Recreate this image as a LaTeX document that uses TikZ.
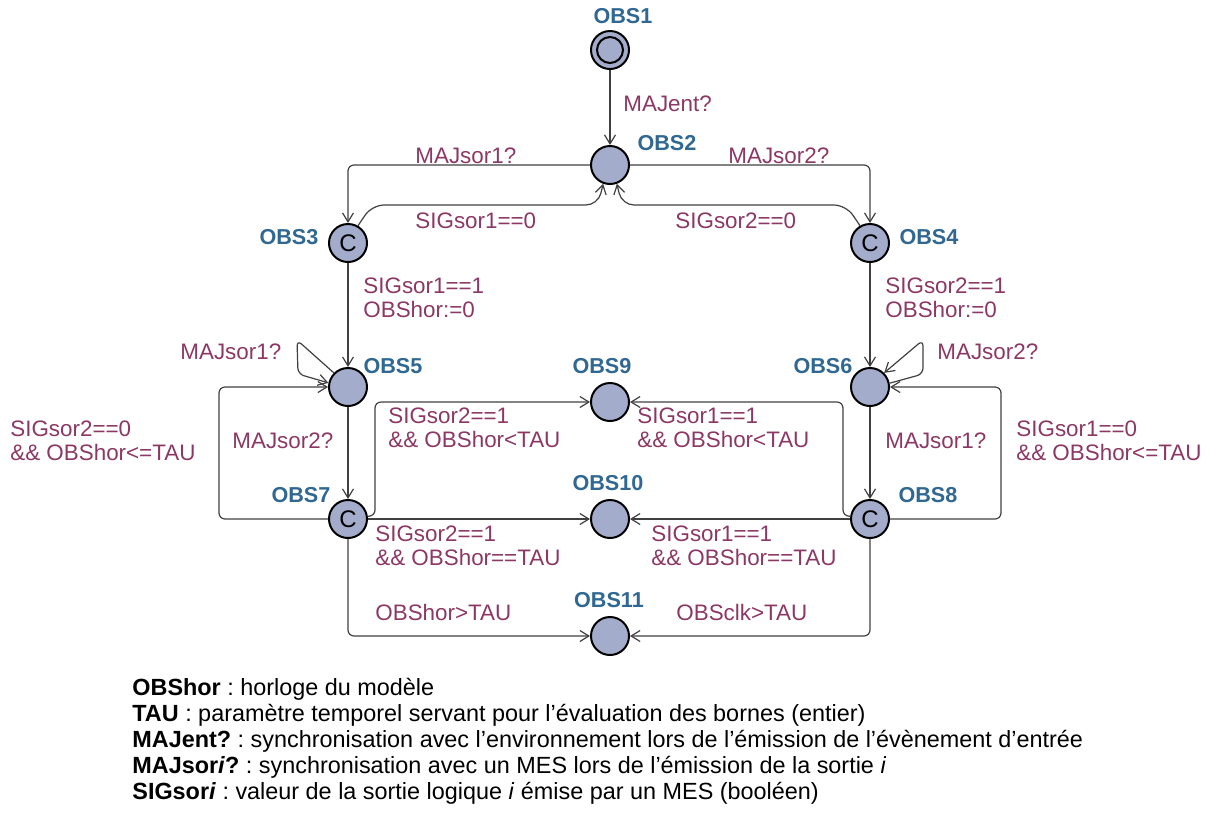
\documentclass[tikz,border=0pt]{standalone}
\usepackage{fontspec}
\setmainfont{Liberation Sans}
\usetikzlibrary{arrows.meta}
\frenchspacing

\definecolor{locfill}{RGB}{164,172,204}
\definecolor{namecol}{RGB}{48,104,146}
\definecolor{lblcol}{RGB}{140,56,100}

\tikzset{
	loc/.style={circle,draw=black,line width=1pt,fill=locfill,minimum size=19pt,inner sep=0pt,font=\fontsize{12}{12}\selectfont},
	locname/.style={text=namecol,font=\fontsize{10.8}{11}\selectfont\bfseries,inner sep=0pt},
	lbl/.style={text=lblcol,font=\fontsize{11.2}{12}\selectfont,align=left,inner sep=0pt,anchor=west},
	trans/.style={draw=black!75,line width=0.6pt,-{Straight Barb[length=4.5pt,width=5.5pt]},rounded corners=3pt},
	legend/.style={font=\fontsize{11.7}{13}\selectfont,inner sep=0pt,anchor=base west}
}

\begin{document}
\begin{tikzpicture}[x=0.5pt,y=-0.5pt]
			%%%%% START %%%%%
			\useasboundingbox (0,0) rectangle (1216,816);
			\def\xl{348}
			\def\xm{610}
			\def\xr{870}

			% locations
			\node[loc] (obs1) at (\xm,50) {};
			\draw[line width=1pt] (obs1) circle (6.5pt);
			\node[loc] (obs2) at (\xm,165) {};
			\node[loc] (obs3) at (\xl,243) {C};
			\node[loc] (obs4) at (\xr,243) {C};
			\node[loc] (obs5) at (\xl,387) {};
			\node[loc] (obs6) at (\xr,387) {};
			\node[loc] (obs7) at (\xl,519) {C};
			\node[loc] (obs8) at (\xr,519) {C};
			\node[loc] (obs9) at (\xm,402) {};
			\node[loc] (obs10) at (\xm,519) {};
			\node[loc] (obs11) at (\xm,636) {};

			\node[locname] (nobs1) at (623,16) {OBS1};
			\node[locname] (nobs2) at (667,143) {OBS2};
			\node[locname] (nobs3) at (289,237) {OBS3};
			\node[locname] (nobs4) at (929,237) {OBS4};
			\node[locname] (nobs5) at (393,366) {OBS5};
			\node[locname] (nobs6) at (823,366) {OBS6};
			\node[locname] (nobs7) at (301,495) {OBS7};
			\node[locname] (nobs8) at (928,495) {OBS8};
			\node[locname] (nobs9) at (602,366) {OBS9};
			\node[locname] (nobs10) at (608,483) {OBS10};
			\node[locname] (nobs11) at (609,600) {OBS11};

			% transitions
			\draw[trans] (obs1) -- (obs2);
			\draw[trans] (obs2) -| (obs3);
			\draw[trans] (obs2) -| (obs4);
			\draw[trans,rounded corners=6pt] (obs3.60) -- (372,205) -- (598,205) -- (obs2.250);
			\draw[trans,rounded corners=6pt] (obs4.120) -- (846,205) -- (622,205) -- (obs2.290);
			\draw[trans] (obs3) -- (obs5);
			\draw[trans] (obs4) -- (obs6);
			\draw[trans] (obs5.135) -- (297,340) -- (298,374) -- (obs5.168);
			\draw[trans] (obs6.11) -- (923,374) -- (923,340) -- (obs6.45);
			\draw[trans] (obs5) -- (obs7);
			\draw[trans] (obs6) -- (obs8);
			\draw[trans] (obs7) -- (219,519) |- (obs5);
			\draw[trans] (obs8) -- (1001,519) |- (obs6);
			\draw[trans] (obs7.8) -- (375,516) |- (obs9);
			\draw[trans] (obs8.172) -- (843,516) |- (obs9);
			\draw[trans] (obs7) -- (obs10);
			\draw[trans] (obs8) -- (obs10);
			\draw[trans] (obs7) |- (obs11);
			\draw[trans] (obs8) |- (obs11);

			% guards, syncs and updates
			\node[lbl] (g1) at (623,104) {MAJent?};
			\node[lbl] (g2) at (415,156) {MAJsor1?};
			\node[lbl] (g3) at (415,221) {SIGsor1==0};
			\node[lbl] (g4) at (728,156) {MAJsor2?};
			\node[lbl] (g5) at (675,221) {SIGsor2==0};
			\node[lbl] (g6) at (363,298) {SIGsor1==1\\OBShor:=0};
			\node[lbl] (g7) at (885,298) {SIGsor2==1\\OBShor:=0};
			\node[lbl] (g8) at (180,352) {MAJsor1?};
			\node[lbl] (g9) at (937,352) {MAJsor2?};
			\node[lbl] (g10) at (10,441) {SIGsor2==0\\\&\& OBShor<=TAU};
			\node[lbl] (g11) at (1016,441) {SIGsor1==0\\\&\& OBShor<=TAU};
			\node[lbl] (g12) at (232,441) {MAJsor2?};
			\node[lbl] (g13) at (885,441) {MAJsor1?};
			\node[lbl] (g14) at (388,428) {SIGsor2==1\\\&\& OBShor<TAU};
			\node[lbl] (g15) at (637,428) {SIGsor1==1\\\&\& OBShor<TAU};
			\node[lbl] (g16) at (375,546) {SIGsor2==1\\\&\& OBShor==TAU};
			\node[lbl] (g17) at (651,546) {SIGsor1==1\\\&\& OBShor==TAU};
			\node[lbl] (g18) at (375,612) {OBShor>TAU};
			\node[lbl] (g19) at (676,612) {OBSclk>TAU};

			% legend
			\node[legend] (leg1) at (132,695) {\textbf{OBShor} : horloge du modèle};
			\node[legend] (leg2) at (132,721) {\textbf{TAU} : paramètre temporel servant pour l’évaluation des bornes (entier)};
			\node[legend] (leg3) at (132,747) {\textbf{MAJent?} : synchronisation avec l’environnement lors de l’émission de l’évènement d’entrée};
			\node[legend] (leg4) at (132,773) {\textbf{MAJsor\textit{i}?} : synchronisation avec un MES lors de l’émission de la sortie \textit{i}};
			\node[legend] (leg5) at (132,799) {\textbf{SIGsor\textit{i}} : valeur de la sortie logique \textit{i} émise par un MES (booléen)};
			%%%%% END %%%%%
\end{tikzpicture}
\end{document}
